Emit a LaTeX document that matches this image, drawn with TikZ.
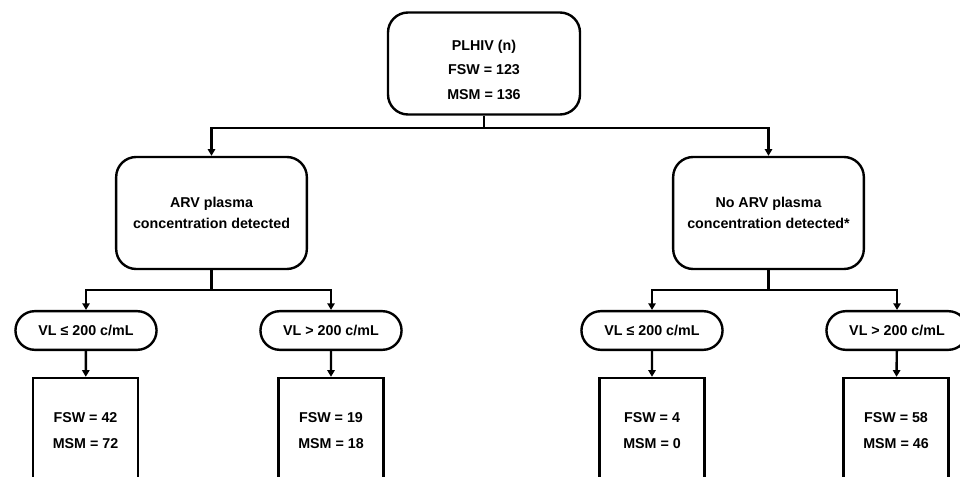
\documentclass[tikz,border=0pt]{standalone}
\usepackage{fontspec}
\setmainfont{Liberation Sans}
\usepackage{tikz}
\usetikzlibrary{shapes,arrows.meta}

\begin{document}
\begin{tikzpicture}[x=0.75pt,y=-0.75pt]
    \tikzstyle{roundbox}=[rectangle, draw, line width=1.8pt, rounded corners=15pt, align=center]
    \tikzstyle{pill}=[rounded rectangle, draw, line width=1.8pt, minimum width=112.5pt,
    minimum height=29pt, font=\bfseries\fontsize{10.7}{13}\selectfont]
    \tikzstyle{countbox}=[rectangle, draw, line width=1.8pt, minimum width=79pt,
    minimum height=79.5pt, align=center, font=\bfseries\fontsize{10.7}{19.5}\selectfont]
    \tikzstyle{conn}=[line width=1.8pt]
    \tikzstyle{arr}=[conn, -{Triangle[length=5pt,width=5.5pt]}]
    \useasboundingbox (0,0) rectangle (960,477);
    \clip (0,0) rectangle (960,477);

    \node[roundbox, minimum width=144pt, minimum height=76.5pt,
    font=\bfseries\fontsize{10.7}{18.4}\selectfont](plhiv) at (484,63.5){\rule{0pt}{17pt}PLHIV (n)\\FSW = 123\\MSM = 136};

    \node[roundbox, minimum width=143pt, minimum height=84pt,
    font=\bfseries\fontsize{10.7}{15.75}\selectfont](arv) at (211.5,213){ARV plasma\\concentration detected};
    \node[roundbox, minimum width=143pt, minimum height=84pt,
    font=\bfseries\fontsize{10.7}{15.75}\selectfont](noarv) at (768.5,213){No ARV plasma\\concentration detected*};

    \node[pill](lowA) at (86,330.5){VL ≤ 200 c/mL};
    \node[pill](highA) at (331,330.5){VL > 200 c/mL};
    \node[pill](lowN) at (652,330.5){VL ≤ 200 c/mL};
    \node[pill](highN) at (897,330.5){VL > 200 c/mL};

    \node[countbox](cntA1) at (85.5,431){FSW = 42\\MSM = 72};
    \node[countbox](cntA2) at (331,431){FSW = 19\\MSM = 18};
    \node[countbox](cntN1) at (652,431){FSW = 4\\MSM = 0};
    \node[countbox](cntN2) at (896,431){FSW = 58\\MSM = 46};

    \coordinate (j0) at (484,128);
    \coordinate (j1) at (211.5,290);
    \coordinate (j2) at (768.5,290);

    \draw[conn] (plhiv) -- (j0);
    \draw[arr] (j0) -| (arv);
    \draw[arr] (j0) -| (noarv);

    \draw[conn] (arv) -- (j1);
    \draw[arr] (j1) -| (lowA);
    \draw[arr] (j1) -| (highA);
    \draw[conn] (noarv) -- (j2);
    \draw[arr] (j2) -| (lowN);
    \draw[arr] (j2) -| (highN);

    \draw[arr] (lowA) -- (cntA1);
    \draw[arr] (highA) -- (cntA2);
    \draw[arr] (lowN) -- (cntN1);
    \draw[arr] (highN) -- (cntN2);
\end{tikzpicture}
\end{document}
